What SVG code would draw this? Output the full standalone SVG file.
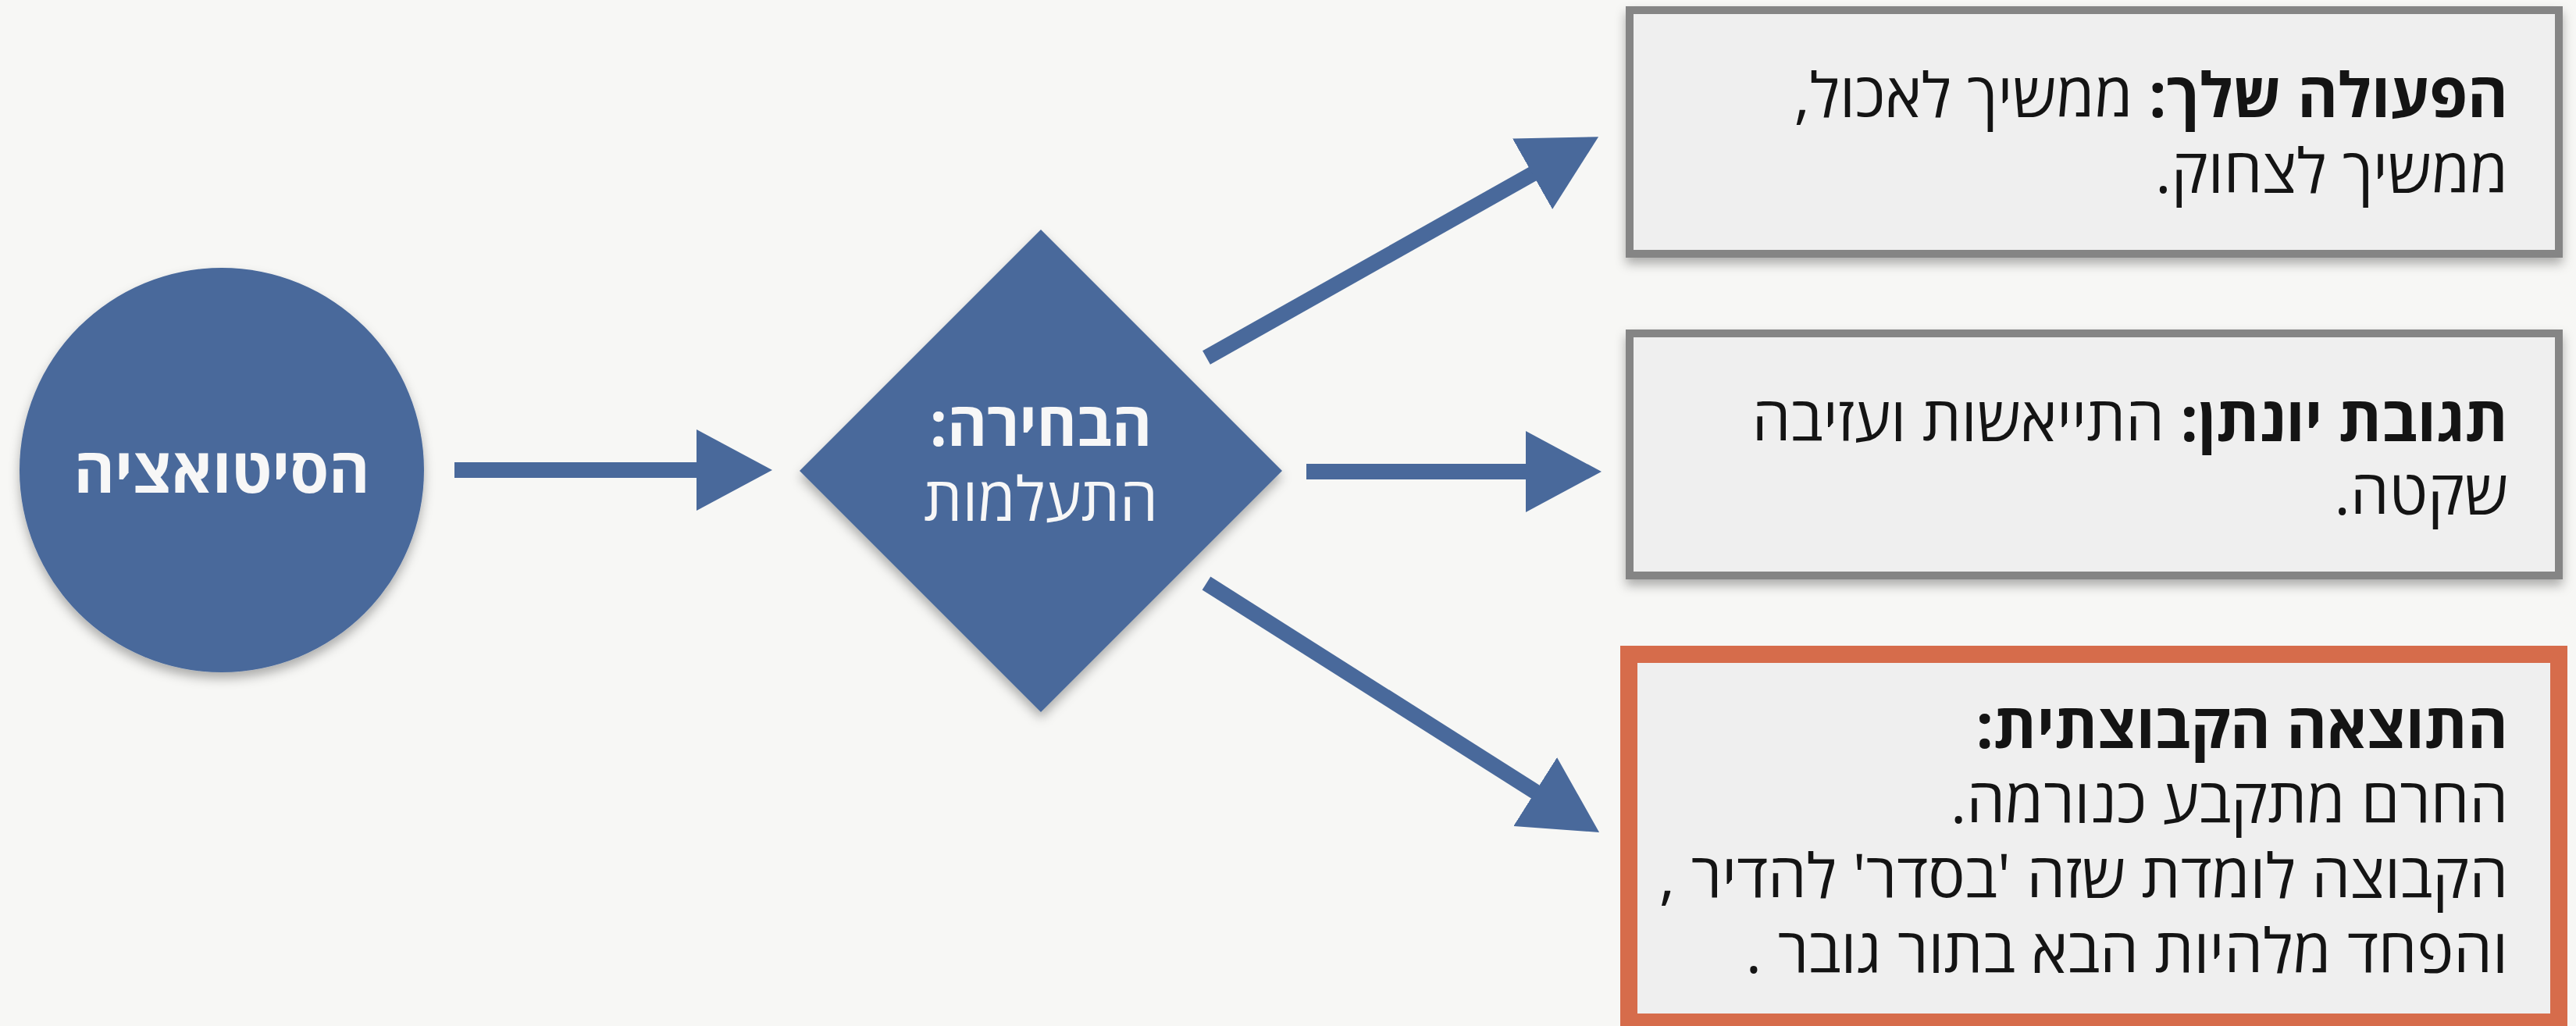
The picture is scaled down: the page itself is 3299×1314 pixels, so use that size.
<svg xmlns="http://www.w3.org/2000/svg" width="3299" height="1314" viewBox="0 0 3299 1314">
<style>
.bg{fill:#f7f7f5}
.blue{fill:#49699b}
.wt{fill:#f7f7f7;font-family:"Open Sans","Liberation Sans","DejaVu Sans",sans-serif;text-anchor:middle;direction:rtl}
.bx{fill:#efefef;stroke:#858585;stroke-width:10}
.bxo{fill:#efefef;stroke:#d66c4b;stroke-width:22}
.tx{fill:#141414;font-family:"Open Sans","Liberation Sans","DejaVu Sans",sans-serif;font-size:79px;direction:rtl;text-anchor:start}
.b{font-weight:bold}
.conn{stroke:#49699b;stroke-width:20;fill:none;marker-end:url(#ah)}
</style>
<defs>
<filter id="sh" x="-10%" y="-10%" width="120%" height="130%">
<feDropShadow dx="0" dy="8" stdDeviation="7" flood-color="#000" flood-opacity="0.3"/>
</filter>
<marker id="ah" markerUnits="userSpaceOnUse" markerWidth="100" markerHeight="106" refX="37" refY="52" orient="auto" viewBox="0 0 100 106">
<path d="M0,0 L97,52 L0,104 Z" fill="#49699b"/>
</marker>
</defs>
<rect class="bg" x="0" y="0" width="3299" height="1314"/>
<g id="connectors">
<line class="conn" x1="582" y1="602" x2="929" y2="602"/>
<line class="conn" x1="1545" y1="458" x2="1994.8" y2="204.6"/>
<line class="conn" x1="1673" y1="604" x2="1991" y2="604"/>
<line class="conn" x1="1545" y1="747" x2="1997.4" y2="1033.8"/>
</g>
<g id="situation">
<circle class="blue" cx="284" cy="602" r="259" filter="url(#sh)"/>
<text class="wt b" x="284" y="631" font-size="80">הסיטואציה</text>
</g>
<g id="choice">
<path class="blue" d="M1333,294 L1642,603 L1333,912 L1024,603 Z" filter="url(#sh)"/>
<text class="wt b" x="1333" y="571" font-size="78">הבחירה:</text>
<text class="wt" x="1333" y="667" font-size="78">התעלמות</text>
</g>
<g id="action">
<rect class="bx" x="2087" y="13" width="1190" height="312" filter="url(#sh)"/>
<text class="tx" x="3212" y="150"><tspan class="b">הפעולה שלך:</tspan> ממשיך לאכול,</text>
<text class="tx" x="3212" y="247">ממשיך לצחוק.</text>
</g>
<g id="reaction">
<rect class="bx" x="2087" y="427" width="1190" height="310" filter="url(#sh)"/>
<text class="tx" x="3212" y="565"><tspan class="b">תגובת יונתן:</tspan> התייאשות ועזיבה</text>
<text class="tx" x="3212" y="659">שקטה.</text>
</g>
<g id="result">
<rect class="bxo" x="2086" y="838" width="1191" height="471"/>
<text class="tx b" x="3212" y="958">התוצאה הקבוצתית:</text>
<text class="tx" x="3212" y="1054">החרם מתקבע כנורמה.</text>
<text class="tx" x="3212" y="1150">הקבוצה לומדת שזה 'בסדר' להדיר ,</text>
<text class="tx" x="3212" y="1246">והפחד מלהיות הבא בתור גובר .</text>
</g>
</svg>
